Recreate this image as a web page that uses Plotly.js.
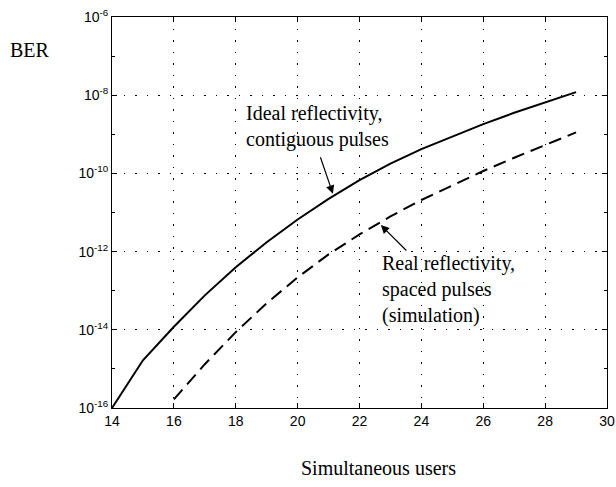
<!DOCTYPE html>
<html>
<head>
<meta charset="utf-8">
<script src="https://cdn.plot.ly/plotly-3.0.1.min.js"></script>
<style>html,body{margin:0;padding:0;background:#fff;}#chart{width:616px;height:487px;}</style>
</head>
<body>
<div id="chart"></div>
<script>
// Simultaneous users
var usersIdeal = [14, 15, 16, 17, 18, 19, 20, 21, 22, 23, 24, 25, 26, 27, 28, 29];
// BER, ideal reflectivity, contiguous pulses
var berIdeal = [1e-16, 1.66e-15, 1.20e-14, 7.59e-14, 3.98e-13, 1.74e-12, 6.61e-12, 2.24e-11, 6.76e-11, 1.78e-10, 4.17e-10, 8.91e-10, 1.82e-9, 3.55e-9, 6.61e-9, 1.20e-8];
var usersReal = [16, 17, 18, 19, 20, 21, 22, 23, 24, 25, 26, 27, 28, 29];
// BER, real reflectivity, spaced pulses (simulation)
var berReal = [1.66e-16, 1.32e-15, 8.71e-15, 4.79e-14, 2.19e-13, 8.51e-13, 2.75e-12, 7.94e-12, 2.09e-11, 5.01e-11, 1.15e-10, 2.51e-10, 5.37e-10, 1.12e-9];

var xTicks = [14, 16, 18, 20, 22, 24, 26, 28, 30];
var yTickVals = [1e-16, 1e-14, 1e-12, 1e-10, 1e-8, 1e-6];
var yTickText = ['10<sup>-16</sup>', '10<sup>-14</sup>', '10<sup>-12</sup>', '10<sup>-10</sup>', '10<sup>-8</sup>', '10<sup>-6</sup>'];
var yMinorVals = [1e-15, 1e-13, 1e-11, 1e-9, 1e-7];

var labelIdeal = 'Ideal reflectivity,<br>contiguous pulses';
var labelReal = 'Real reflectivity,<br>spaced pulses<br>(simulation)';
var yTitle = 'BER';
var xTitle = 'Simultaneous users';

var serif = '"Liberation Serif", "Times New Roman", serif';
var sans = '"Liberation Sans", Arial, sans-serif';

var traces = [
  {x: usersIdeal, y: berIdeal, mode: 'lines', line: {color: '#000', width: 2}, showlegend: false, hoverinfo: 'skip'},
  {x: usersReal, y: berReal, mode: 'lines', line: {color: '#000', width: 2, dash: '13px,7px'}, showlegend: false, hoverinfo: 'skip'}
];

var axisCommon = {
  showline: true, linecolor: '#000', linewidth: 1, mirror: 'ticks',
  ticks: 'inside', ticklen: 5, tickcolor: '#000', tickwidth: 1,
  showgrid: true, gridcolor: '#000', gridwidth: 1, griddash: '1.5px,10px',
  zeroline: false,
  tickfont: {family: sans, size: 14, color: '#000'}
};

var layout = {
  width: 616, height: 487,
  margin: {l: 112, r: 9, t: 17, b: 79},
  paper_bgcolor: '#fff', plot_bgcolor: '#fff',
  xaxis: Object.assign({}, axisCommon, {
    range: [14, 30], tickmode: 'array', tickvals: xTicks, ticktext: xTicks.map(String)
  }),
  yaxis: Object.assign({}, axisCommon, {
    type: 'log', range: [-16, -6], tickmode: 'array', tickvals: yTickVals, ticktext: yTickText,
    minor: {tickmode: 'array', tickvals: yMinorVals, ticks: 'inside', ticklen: 3, tickcolor: '#000', showgrid: false}
  }),
  annotations: [
    {xref: 'paper', yref: 'paper', x: -0.21, y: 0.9156, xanchor: 'left', yanchor: 'middle', showarrow: false,
     text: yTitle, font: {family: serif, size: 20, color: '#000'}},
    {xref: 'paper', yref: 'paper', x: 0.539, y: -0.153, xanchor: 'center', yanchor: 'middle', showarrow: false,
     text: xTitle, font: {family: serif, size: 20, color: '#000'}},
    {x: 18.27, y: -8.81, xref: 'x', yref: 'y', xanchor: 'left', yanchor: 'middle', align: 'left', showarrow: false,
     text: labelIdeal, font: {family: serif, size: 20, color: '#000'}},
    {x: 22.66, y: -12.96, xref: 'x', yref: 'y', xanchor: 'left', yanchor: 'middle', align: 'left', showarrow: false,
     text: labelReal, font: {family: serif, size: 20, color: '#000'}},
    {x: 21.14, y: -10.52, xref: 'x', yref: 'y', text: '', showarrow: true, ax: -13, ay: -38,
     arrowhead: 2, arrowsize: 1.4, arrowwidth: 1.2, arrowcolor: '#000'},
    {x: 22.69, y: -11.32, xref: 'x', yref: 'y', text: '', showarrow: true, ax: 27, ay: 27,
     arrowhead: 2, arrowsize: 1.4, arrowwidth: 1.2, arrowcolor: '#000'}
  ]
};

Plotly.newPlot('chart', traces, layout, {staticPlot: true, displayModeBar: false});
</script>
</body>
</html>
